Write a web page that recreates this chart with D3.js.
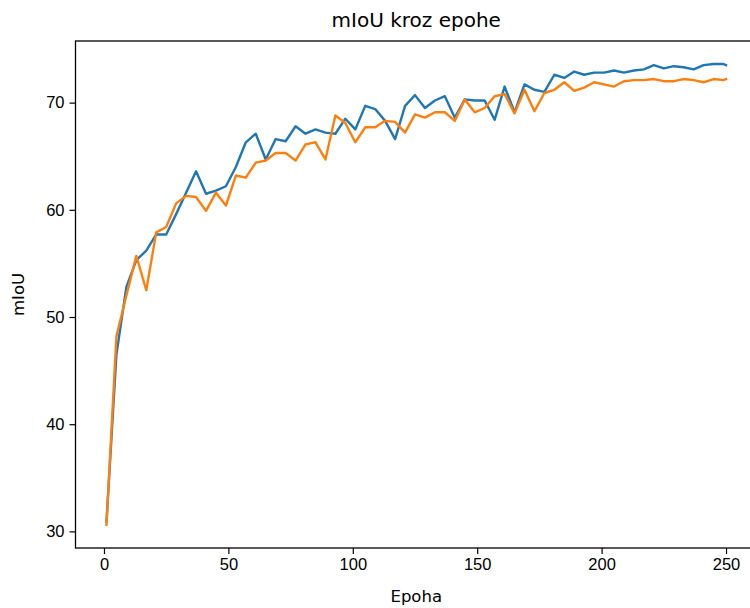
<!DOCTYPE html>
<html lang="en">
<head>
    <meta charset="UTF-8">
    <title>mIoU kroz epohe</title>
    <style>
        body{ margin:0; background:#fff; }
        svg{ display:block; font-family:"DejaVu Sans", sans-serif; }
        .axis text{ font-size:16.5px; fill:#000; }
        .axis path, .axis line{ stroke:#000; stroke-width:1.2; }
        .line{ fill:none; stroke-width:2.4; stroke-linejoin:round; stroke-linecap:square; }
    </style>
</head>
<body>
    <svg width="750" height="608"></svg>
    <script src="https://d3js.org/d3.v7.min.js"></script>
    <script>
        // epochs at which the model was evaluated
        var epochs = [1, 5, 9, 13, 17, 21, 25, 29, 33, 37, 41, 45, 49, 53, 57, 61,
            65, 69, 73, 77, 81, 85, 89, 93, 97, 101, 105, 109, 113, 117, 121, 125,
            129, 133, 137, 141, 145, 149, 153, 157, 161, 165, 169, 173, 177, 181, 185, 189,
            193, 197, 201, 205, 209, 213, 217, 221, 225, 229, 233, 237, 241, 245, 249, 250];

        var blueSeries = [30.9, 46.5, 52.8, 55.3, 56.2, 57.7, 57.7, 59.6, 61.6, 63.6, 61.5, 61.8, 62.2, 64.0, 66.3, 67.1,
            64.7, 66.6, 66.4, 67.8, 67.1, 67.5, 67.2, 67.1, 68.5, 67.5, 69.7, 69.4, 68.3, 66.6, 69.7, 70.7,
            69.5, 70.2, 70.6, 68.6, 70.3, 70.2, 70.2, 68.4, 71.5, 69.1, 71.7, 71.2, 71.0, 72.6, 72.3, 72.9,
            72.6, 72.8, 72.8, 73.0, 72.8, 73.0, 73.1, 73.5, 73.2, 73.4, 73.3, 73.1, 73.5, 73.6, 73.6, 73.5];

        var orangeSeries = [30.6, 48.2, 52.0, 55.7, 52.5, 57.9, 58.4, 60.6, 61.3, 61.2, 59.9, 61.6, 60.4, 63.2, 63.0, 64.4,
            64.6, 65.3, 65.3, 64.6, 66.1, 66.3, 64.7, 68.8, 68.1, 66.3, 67.7, 67.7, 68.3, 68.2, 67.2, 68.9,
            68.6, 69.1, 69.1, 68.3, 70.3, 69.1, 69.5, 70.6, 70.8, 69.0, 71.2, 69.2, 70.9, 71.2, 71.9, 71.1,
            71.4, 71.9, 71.7, 71.5, 72.0, 72.1, 72.1, 72.2, 72.0, 72.0, 72.2, 72.1, 71.9, 72.2, 72.1, 72.2];

        var xTicks = [0, 50, 100, 150, 200, 250];
        var yTicks = [30, 40, 50, 60, 70];

        var svg = d3.select("svg"),
            margin = {top: 41, left: 75.5, right: 757, bottom: 548};

        // matplotlib-like 5% margins around the data
        function padded(ext){
            var m = (ext[1] - ext[0]) * 0.05;
            return [ext[0] - m, ext[1] + m];
        }
        var allY = blueSeries.concat(orangeSeries);

        var x = d3.scaleLinear().domain(padded(d3.extent(epochs))).range([margin.left, margin.right]);
        var y = d3.scaleLinear().domain(padded(d3.extent(allY))).range([margin.bottom, margin.top]);

        var line = function(vals){
            return d3.line()
                .x(function(d, i){ return x(epochs[i]); })
                .y(function(d){ return y(d); })(vals);
        };

        svg.append("path").attr("class", "line").attr("stroke", "#1f77b4").attr("d", line(blueSeries));
        svg.append("path").attr("class", "line").attr("stroke", "#ff7f0e").attr("d", line(orangeSeries));

        // frame
        svg.append("rect")
            .attr("x", margin.left).attr("y", margin.top)
            .attr("width", margin.right - margin.left).attr("height", margin.bottom - margin.top)
            .attr("fill", "none").attr("stroke", "#000").attr("stroke-width", 1.3);

        var xAxis = svg.append("g")
            .attr("class", "axis")
            .attr("transform", "translate(0," + margin.bottom + ")")
            .call(d3.axisBottom(x).tickValues(xTicks).tickSize(6).tickPadding(4).tickFormat(d3.format("d")));
        xAxis.select(".domain").remove();

        var yAxis = svg.append("g")
            .attr("class", "axis")
            .attr("transform", "translate(" + margin.left + ",0)")
            .call(d3.axisLeft(y).tickValues(yTicks).tickSize(6).tickPadding(5).tickFormat(d3.format("d")));
        yAxis.select(".domain").remove();

        svg.append("text")
            .attr("x", (margin.left + margin.right) / 2).attr("y", 27)
            .attr("text-anchor", "middle").attr("font-size", "20px")
            .text("mIoU kroz epohe");

        svg.append("text")
            .attr("x", (margin.left + margin.right) / 2).attr("y", 602)
            .attr("text-anchor", "middle").attr("font-size", "16.5px")
            .text("Epoha");

        svg.append("text")
            .attr("transform", "translate(24," + (margin.top + margin.bottom) / 2 + ") rotate(-90)")
            .attr("text-anchor", "middle").attr("font-size", "16.5px")
            .text("mIoU");
    </script>
</body>
</html>
